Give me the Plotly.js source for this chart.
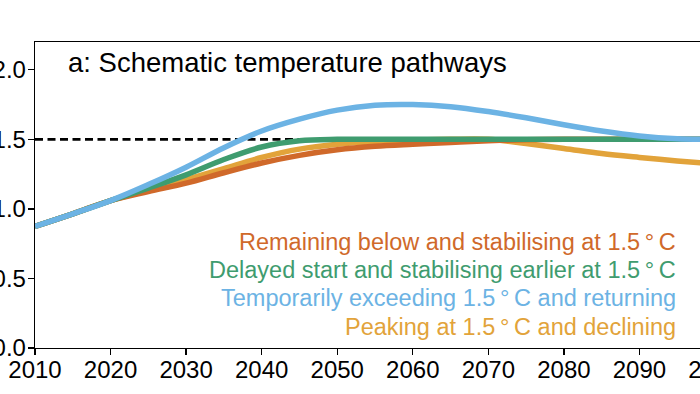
<!DOCTYPE html>
<html>
<head>
<meta charset="utf-8">
<script src="https://cdn.plot.ly/plotly-3.0.1.min.js"></script>
<style>
html, body { margin: 0; padding: 0; overflow: hidden; background: #fff; }
#chart { width: 760px; height: 394px; }
</style>
</head>
<body>
<div id="chart"></div>
<script>
const years = [2010, 2015, 2020, 2025, 2030, 2035, 2040, 2045, 2050, 2055, 2060, 2065, 2070, 2075, 2080, 2085, 2090, 2095, 2100];
const remainingBelow = [0.875, 0.965, 1.06, 1.125, 1.185, 1.26, 1.33, 1.385, 1.425, 1.45, 1.465, 1.478, 1.49, 1.497, 1.5, 1.5, 1.5, 1.5, 1.5];
const delayedStart   = [0.875, 0.965, 1.06, 1.15, 1.245, 1.355, 1.445, 1.49, 1.5, 1.5, 1.5, 1.5, 1.5, 1.5, 1.5, 1.5, 1.5, 1.5, 1.5];
const temporarilyExceeding = [0.875, 0.965, 1.06, 1.175, 1.30, 1.44, 1.56, 1.645, 1.71, 1.745, 1.75, 1.735, 1.70, 1.655, 1.605, 1.56, 1.525, 1.505, 1.50];
const peakingDeclining = [0.875, 0.965, 1.06, 1.135, 1.21, 1.29, 1.37, 1.43, 1.465, 1.485, 1.495, 1.5, 1.5, 1.47, 1.435, 1.398, 1.37, 1.345, 1.322];
const thresholdYears = [2010, 2100];
const thresholdValues = [1.5, 1.5];
const seriesLabels = [
  'Remaining below and stabilising at 1.5\u2009°\u2009C',
  'Delayed start and stabilising earlier at 1.5\u2009°\u2009C',
  'Temporarily exceeding 1.5\u2009°\u2009C and returning',
  'Peaking at 1.5\u2009°\u2009C and declining'
];
const panelTitle = 'a: Schematic temperature pathways';
const xTicks = [2010, 2020, 2030, 2040, 2050, 2060, 2070, 2080, 2090, 2100];
const yTicks = [0.0, 0.5, 1.0, 1.5, 2.0];

const cOrange = '#D0692A', cGreen = '#3F9C6F', cBlue = '#6CB3E4', cYellow = '#E2A33A';
const lw = 5.5;

const traces = [
  {x: thresholdYears, y: thresholdValues, mode: 'lines', line: {color: '#000', width: 2.6, dash: '8px,4.5px'}},
  {x: years, y: peakingDeclining, mode: 'lines', line: {color: cYellow, width: lw, shape: 'spline', smoothing: 1}},
  {x: years, y: remainingBelow, mode: 'lines', line: {color: cOrange, width: lw, shape: 'spline', smoothing: 1}},
  {x: years, y: delayedStart, mode: 'lines', line: {color: cGreen, width: lw, shape: 'spline', smoothing: 1}},
  {x: years, y: temporarilyExceeding, mode: 'lines', line: {color: cBlue, width: lw, shape: 'spline', smoothing: 1}}
];

const font = 'Arial, "Liberation Sans", sans-serif';
const colors = [cOrange, cGreen, cBlue, cYellow];
const labelY = [0.764, 0.561, 0.359, 0.154];
const annotations = seriesLabels.map((t, i) => ({
  text: t, x: 2095.15, y: labelY[i], xref: 'x', yref: 'y', xanchor: 'right', yanchor: 'middle',
  showarrow: false, font: {family: font, size: 23.5, color: colors[i]}
}));
annotations.push({
  text: panelTitle, x: 2014.15, y: 2.05, xref: 'x', yref: 'y', xanchor: 'left', yanchor: 'middle',
  showarrow: false, font: {family: font, size: 27.5, color: '#000'}
});

const layout = {
  width: 760, height: 394,
  margin: {l: 35, r: 45.2, t: 41.5, b: 46.3, pad: 0},
  paper_bgcolor: '#fff', plot_bgcolor: '#fff',
  showlegend: false,
  font: {family: font, color: '#000'},
  xaxis: {
    range: [2010, 2100], tickvals: xTicks, ticktext: xTicks.map(String),
    showgrid: false, zeroline: false, showline: true, mirror: true, linecolor: '#000', linewidth: 1.3,
    ticks: 'outside', ticklen: 6, tickwidth: 1.3, tickcolor: '#000', ticklabelstandoff: -6,
    tickfont: {family: font, size: 24, color: '#000'}
  },
  yaxis: {
    range: [0, 2.2], tickvals: yTicks, ticktext: yTicks.map(v => v.toFixed(1)),
    showgrid: false, zeroline: false, showline: true, mirror: true, linecolor: '#000', linewidth: 1.3,
    ticks: 'outside', ticklen: 6, tickwidth: 1.3, tickcolor: '#000', ticklabelstandoff: -3,
    tickfont: {family: font, size: 24, color: '#000'}
  },
  annotations: annotations
};

Plotly.newPlot('chart', traces, layout, {staticPlot: true, displayModeBar: false});
</script>
</body>
</html>
